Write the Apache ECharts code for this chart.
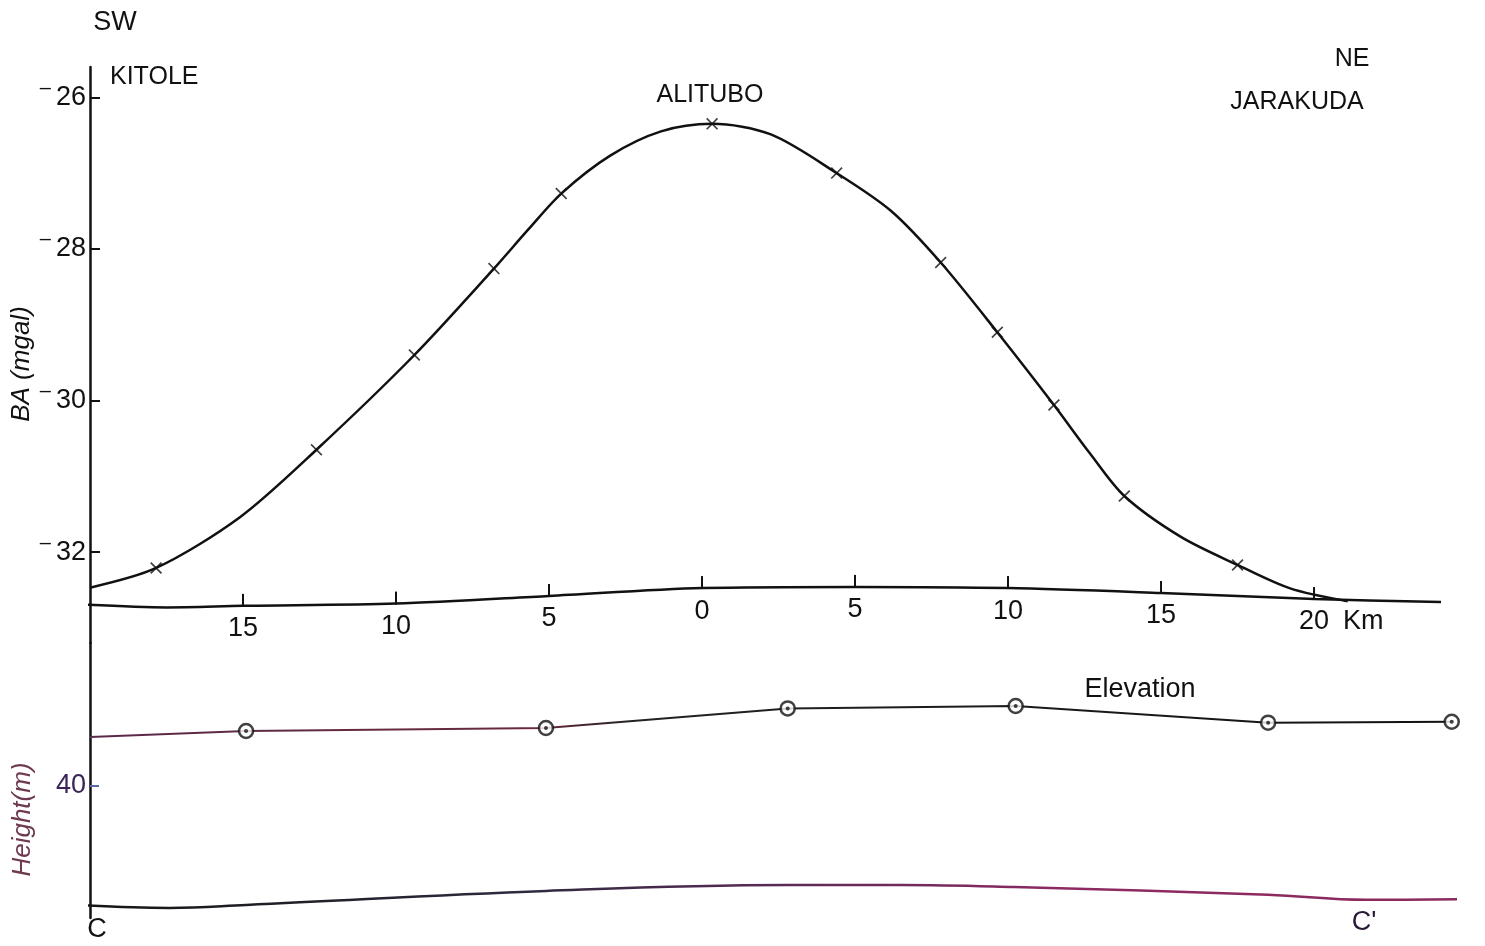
<!DOCTYPE html>
<html><head><meta charset="utf-8">
<script src="https://cdn.jsdelivr.net/npm/echarts@6/dist/echarts.min.js"></script>
<style>html,body{margin:0;padding:0;background:#fff}#c{width:1485px;height:946px}</style>
</head><body><div id="c"></div>
<script>
// ---- Bouguer anomaly profile C–C' (km from Alitubo; negative = SW side, positive = NE side)
const baKm      = [-20, -17.84, -15.1, -12.6, -9.4, -6.8, -5.69, -4.6, -3.0, -1.34, 0.33, 2.25, 4.4, 6.18, 7.8, 9.65, 11.5, 12.68, 13.8, 15.65, 17.5, 19.22, 21.1];
const baVal     = [-32.47, -32.21, -31.54, -30.65, -29.40, -28.26, -27.75, -27.27, -26.77, -26.45, -26.35, -26.49, -27.00, -27.50, -28.18, -29.10, -30.06, -30.70, -31.26, -31.80, -32.17, -32.48, -32.65];
const baStation = [0, 1, 0, 1, 1, 1, 0, 1, 0, 0, 1, 0, 1, 0, 1, 1, 1, 0, 1, 0, 1, 0, 0];
// hand-drawn distance line of the BA panel
const baseKm  = [-20.4, -17.5, -15, -10, -5, 0, 5, 10, 15, 20, 24.15];
const baseVal = [-32.69, -32.73, -32.71, -32.68, -32.58, -32.475, -32.46, -32.475, -32.54, -32.62, -32.66];
const tickKm     = [-15, -10, -5, 0, 5, 10, 15, 20];
const tickLabels = ['15', '10', '5', '0', '5', '10', '15', '20 Km'];
const baTicks    = [-32, -30, -28, -26];
// ---- Elevation profile
const elevKm      = [-20, -14.9, -5.1, 2.8, 10.25, 18.5, 24.5];
const elevM       = [56.5, 58.5, 59.5, 66.1, 66.9, 61.3, 61.6];
const elevStation = [0, 1, 1, 1, 1, 1, 1];
const groundKm = [-20.5, -17.4, -14.9, -5.1, 2.8, 6.5, 10.2, 18.5, 21.7, 25.6];
const groundM  = [0, -1.0, 0, 4.7, 6.7, 6.7, 6.0, 3.4, 1.7, 2.0];
const heightTicks = [40];

const FONT = "'Liberation Sans', Arial, sans-serif";
const INK = '#111';
const xMark = 'path://M1,0 L5,4 L9,0 L10,1 L6,5 L10,9 L9,10 L5,6 L1,10 L0,9 L4,5 L0,1 Z';

const chart = echarts.init(document.getElementById('c'), null, {renderer: 'canvas'});

const baLine = baKm.map((k, i) => [k, baVal[i]]);
const baMarks = baLine.filter((d, i) => baStation[i]);
const elevLine = elevKm.map((k, i) => [k, elevM[i]]);
const elevMarks = elevLine.filter((d, i) => elevStation[i]);

chart.setOption({
  animation: false,
  backgroundColor: '#fff',
  grid: [
    {left: 90, right: 30.2, top: 67, height: 576, containLabel: false, outerBoundsMode: 'none'},
    {left: 90, right: 30.2, top: 643, height: 275, containLabel: false, outerBoundsMode: 'none'}
  ],
  xAxis: [
    {gridIndex: 0, type: 'value', min: -20, max: 24.6, show: false},
    {gridIndex: 1, type: 'value', min: -20, max: 24.6, show: false}
  ],
  yAxis: [
    {
      gridIndex: 0, type: 'value', min: -33.2, max: -25.6,
      name: 'BA (mgal)', nameLocation: 'middle', nameGap: 55, nameRotate: 90, nameMoveOverlap: false,
      nameTextStyle: {fontFamily: FONT, fontSize: 26, fontStyle: 'italic', color: INK, padding: [0, 18, 0, 0]},
      axisLine: {show: true, onZero: false, lineStyle: {color: INK, width: 2.5}},
      axisTick: {show: true, inside: true, length: 10, customValues: baTicks, lineStyle: {color: INK, width: 2}},
      axisLabel: {
        show: true, customValues: baTicks, margin: 4,
        formatter: v => '{m|–}{n|' + Math.abs(v) + '}',
        rich: {
          m: {fontFamily: FONT, fontSize: 20, color: INK, padding: [0, 5, 18, 0]},
          n: {fontFamily: FONT, fontSize: 27, color: INK}
        }
      },
      splitLine: {show: false}
    },
    {
      gridIndex: 1, type: 'value', min: -4.4, max: 88.1,
      name: 'Height(m)', nameLocation: 'middle', nameGap: 54, nameRotate: 90, nameMoveOverlap: false,
      nameTextStyle: {fontFamily: FONT, fontSize: 26, fontStyle: 'italic', color: '#6e3a50', padding: [0, 78, 0, 0]},
      axisLine: {show: true, onZero: false, lineStyle: {color: INK, width: 2.5}},
      axisTick: {show: true, inside: true, length: 9, customValues: heightTicks, lineStyle: {color: '#5a6aa8', width: 2}},
      axisLabel: {show: true, customValues: heightTicks, margin: 4, fontFamily: FONT, fontSize: 27, color: '#3b2458'},
      splitLine: {show: false}
    }
  ],
  series: [
    {
      name: 'BA', type: 'line', xAxisIndex: 0, yAxisIndex: 0, data: baLine,
      smooth: 0.3, symbol: 'none', clip: false,
      lineStyle: {color: INK, width: 2.5}, z: 3
    },
    {
      name: 'BA stations', type: 'scatter', xAxisIndex: 0, yAxisIndex: 0, data: baMarks,
      symbol: xMark, symbolSize: 12, itemStyle: {color: INK}, z: 4
    },
    {
      name: 'Distance line', type: 'line', xAxisIndex: 0, yAxisIndex: 0,
      data: baseKm.map((k, i) => [k, baseVal[i]]),
      smooth: 0.3, symbol: 'none', clip: false,
      lineStyle: {color: INK, width: 2.5}, z: 2
    },
    {
      name: 'Distance ticks', type: 'custom', xAxisIndex: 0, yAxisIndex: 0, clip: false,
      data: tickKm.map((k, i) => [k, baseVal[baseKm.indexOf(k)], i]),
      renderItem: function (params, api) {
        const p = api.coord([api.value(0), api.value(1)]);
        const lbl = tickLabels[api.value(2)].split(' ');
        const children = [
          {type: 'line', shape: {x1: p[0], y1: p[1] + 1, x2: p[0], y2: p[1] - 12}, style: {stroke: INK, lineWidth: 2}},
          {type: 'text', x: p[0], y: p[1] + 23, style: {text: lbl[0], fill: INK, font: '27px ' + FONT, textAlign: 'center', textVerticalAlign: 'middle'}}
        ];
        if (lbl[1]) {
          children.push({type: 'text', x: p[0] + 29, y: p[1] + 23, style: {text: lbl[1], fill: INK, font: '27px ' + FONT, textAlign: 'left', textVerticalAlign: 'middle'}});
        }
        return {type: 'group', children: children};
      },
      z: 3
    },
    {
      name: 'Elevation', type: 'line', xAxisIndex: 1, yAxisIndex: 1, data: elevLine,
      smooth: false, symbol: 'none', clip: false,
      lineStyle: {
        width: 2,
        color: new echarts.graphic.LinearGradient(0, 0, 1, 0, [
          {offset: 0, color: '#5a2a4a'}, {offset: 0.33, color: '#6a2a3a'}, {offset: 0.4, color: '#222'}, {offset: 1, color: INK}
        ])
      }, z: 3
    },
    {
      name: 'Elevation stations', type: 'scatter', xAxisIndex: 1, yAxisIndex: 1, data: elevMarks,
      symbol: 'circle', symbolSize: 14,
      itemStyle: {color: '#fff', borderColor: INK, borderWidth: 2.5}, z: 4
    },
    {
      name: 'Elevation station dots', type: 'scatter', xAxisIndex: 1, yAxisIndex: 1, data: elevMarks,
      symbol: 'circle', symbolSize: 4, itemStyle: {color: INK}, z: 5, silent: true
    },
    {
      name: 'Datum', type: 'line', xAxisIndex: 1, yAxisIndex: 1,
      data: groundKm.map((k, i) => [k, groundM[i]]),
      smooth: 0.4, symbol: 'none', clip: false,
      lineStyle: {
        width: 2.5,
        color: new echarts.graphic.LinearGradient(0, 0, 1, 0, [
          {offset: 0, color: '#151515'}, {offset: 0.3, color: '#2a2a3a'}, {offset: 0.5, color: '#5a2a58'}, {offset: 0.7, color: '#8e2a62'}, {offset: 1, color: '#8a2a5e'}
        ])
      }, z: 2
    }
  ],
  graphic: [
    {type: 'text', x: 115, y: 23, style: {text: 'SW', font: '27px ' + FONT, fill: INK, textAlign: 'center', textVerticalAlign: 'middle'}},
    {type: 'text', x: 110, y: 77, style: {text: 'KITOLE', font: '25px ' + FONT, fill: INK, textAlign: 'left', textVerticalAlign: 'middle'}},
    {type: 'text', x: 710, y: 95, style: {text: 'ALITUBO', font: '25px ' + FONT, fill: INK, textAlign: 'center', textVerticalAlign: 'middle'}},
    {type: 'text', x: 1352, y: 59, style: {text: 'NE', font: '25px ' + FONT, fill: INK, textAlign: 'center', textVerticalAlign: 'middle'}},
    {type: 'text', x: 1297, y: 102, style: {text: 'JARAKUDA', font: '25px ' + FONT, fill: INK, textAlign: 'center', textVerticalAlign: 'middle'}},
    {type: 'text', x: 1140, y: 690, style: {text: 'Elevation', font: '27px ' + FONT, fill: INK, textAlign: 'center', textVerticalAlign: 'middle'}},
    {type: 'text', x: 97, y: 930, style: {text: 'C', font: '27px ' + FONT, fill: INK, textAlign: 'center', textVerticalAlign: 'middle'}},
    {type: 'text', x: 1364, y: 923, style: {text: "C'", font: '27px ' + FONT, fill: '#2a1a3a', textAlign: 'center', textVerticalAlign: 'middle'}}
  ]
});
</script>
</body></html>
